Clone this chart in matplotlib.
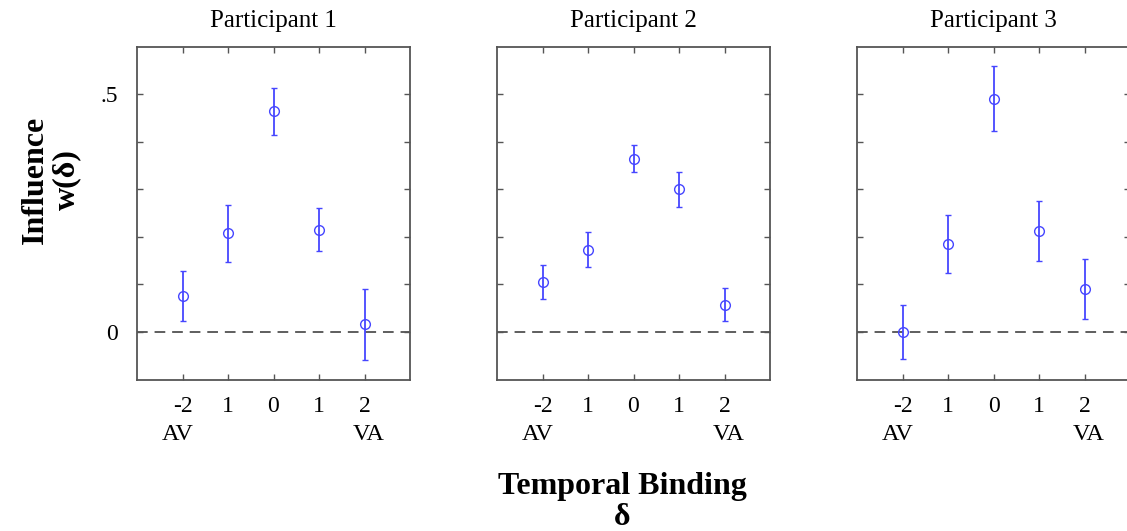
import matplotlib
matplotlib.use("Agg")
import matplotlib.pyplot as plt
import matplotlib.transforms as mtransforms

plt.rcParams["font.family"] = ["Liberation Serif", "DejaVu Serif"]

# Daten
delta = [-2, -1, 0, 1, 2]
tick_labels = ["-2", "1", "0", "1", "2"]
titles = ["Participant 1", "Participant 2", "Participant 3"]

w_p1 = [0.076, 0.207, 0.464, 0.215, 0.016]
err_p1 = [0.053, 0.059, 0.049, 0.045, 0.074]
w_p2 = [0.105, 0.173, 0.364, 0.300, 0.057]
err_p2 = [0.036, 0.037, 0.028, 0.037, 0.035]
w_p3 = [0.000, 0.185, 0.490, 0.212, 0.090]
err_p3 = [0.057, 0.061, 0.068, 0.063, 0.063]

values = [w_p1, w_p2, w_p3]
errors = [err_p1, err_p2, err_p3]

W, H = 1127, 531
fig = plt.figure(figsize=(W / 100, H / 100), dpi=100)

blue = "#4646ff"
spine_col = "#555555"
lefts = [137, 497, 857]
ax_w, ax_top, ax_bot = 273, 46.5, 379.5

for i, left in enumerate(lefts):
    ax = fig.add_axes([left / W, (H - ax_bot) / H, ax_w / W, (ax_bot - ax_top) / H])
    ax.axhline(0, color="#333333", lw=1.1, ls=(0, (7, 4.5)), zorder=1)
    ax.errorbar(delta, values[i], yerr=errors[i], fmt="o", color=blue,
                mfc="none", mec=blue, ms=7, mew=1.0, elinewidth=1.3,
                capsize=2, capthick=1.3, zorder=3)
    ax.set_xlim(-3, 3)
    ax.set_ylim(-0.1, 0.6)
    ax.set_xticks(delta)
    ax.set_xticklabels(tick_labels, fontsize=17)
    ax.set_yticks([0, 0.1, 0.2, 0.3, 0.4, 0.5])
    if i == 0:
        ax.set_yticklabels(["0", "", "", "", "", ".5"], fontsize=17)
    else:
        ax.set_yticklabels([])
    ax.tick_params(direction="in", top=True, right=True, length=4,
                   width=1.0, color=spine_col, pad=12)
    ax.tick_params(axis="y", pad=14)
    for s in ax.spines.values():
        s.set_color(spine_col)
        s.set_linewidth(1.3)
    ax.set_title(titles[i], fontsize=18, pad=14)

    trans = mtransforms.blended_transform_factory(ax.transData, ax.transAxes)
    ax.text(-2.1, -0.165, "AV", transform=trans, ha="center", va="center", fontsize=17.5)
    ax.text(2.1, -0.165, "VA", transform=trans, ha="center", va="center", fontsize=17.5)

fig.text(51 / W, (H - 180) / H, "Influence\nw(\u03b4)", rotation=90, fontsize=23,
         fontweight="bold", ha="center", va="center", multialignment="center",
         linespacing=1.12)
fig.text(622 / W, (H - 502) / H, "Temporal Binding\n\u03b4", fontsize=23,
         fontweight="bold", ha="center", va="center", linespacing=1.05)

fig.savefig("out.png", dpi=100)
